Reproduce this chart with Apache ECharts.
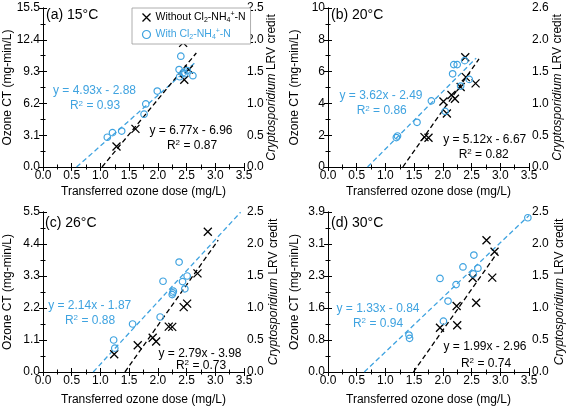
<!DOCTYPE html>
<html><head><meta charset="utf-8">
<script src="https://cdn.jsdelivr.net/npm/echarts@6/dist/echarts.min.js"></script>
<style>html,body{margin:0;padding:0;background:#fff}#c{width:567px;height:410px}</style>
</head><body><div id="c"></div>
<script>
// ---------------- DATA ----------------
const panelTitles = ['(a) 15°C', '(b) 20°C', '(c) 26°C', '(d) 30°C'];
const xTickValues = [0, 0.5, 1.0, 1.5, 2.0, 2.5, 3.0, 3.5];

// Without Cl2-NH4+-N (black crosses)
const aWithoutX = [1.28, 1.61, 2.44, 2.54, 2.46];
const aWithoutY = [2.0, 3.72, 12.1, 9.5, 8.5];
const bWithoutX = [1.68, 1.75, 2.07, 2.01, 2.15, 2.21, 2.31, 2.40, 2.57, 2.39];
const bWithoutY = [1.88, 1.84, 3.37, 4.12, 4.53, 4.29, 5.03, 5.65, 5.26, 6.9];
const cWithoutX = [1.24, 1.65, 1.91, 1.97, 2.19, 2.25, 2.45, 2.51, 2.69, 2.87];
const cWithoutY = [0.61, 0.92, 1.18, 1.05, 1.56, 1.55, 2.23, 2.35, 3.39, 4.82];
const dWithoutX = [1.95, 2.25, 2.24, 2.58, 2.52, 2.86, 2.76, 2.90];
const dWithoutY = [1.08, 1.14, 1.61, 1.69, 2.29, 2.30, 3.21, 2.93];

// With Cl2-NH4+-N (blue circles)
const aWithX = [1.12, 1.21, 1.37, 1.76, 1.79, 1.99, 2.37, 2.40, 2.38, 2.44, 2.47, 2.51, 2.61];
const aWithY = [2.9, 3.35, 3.5, 5.15, 6.15, 7.4, 9.5, 10.8, 8.8, 9.2, 9.1, 9.4, 8.9];
const bWithX = [1.19, 1.21, 1.55, 1.80, 2.04, 2.19, 2.25, 2.17, 2.38, 2.31, 2.46];
const bWithY = [1.85, 1.95, 2.81, 4.16, 3.5, 6.44, 6.44, 5.86, 6.69, 5.09, 5.51];
const cWithX = [1.23, 1.25, 1.56, 2.04, 2.09, 2.25, 2.26, 2.27, 2.37, 2.43, 2.51, 2.47];
const cWithY = [1.1, 0.82, 1.65, 1.89, 3.12, 2.66, 2.72, 2.78, 3.78, 3.11, 3.30, 2.86];
const dWithX = [1.41, 1.42, 2.01, 2.09, 1.95, 2.23, 2.35, 2.54, 2.61, 2.53, 3.48];
const dWithY = [0.90, 0.82, 1.24, 1.73, 2.28, 2.13, 2.56, 2.85, 2.53, 2.39, 3.76];

// Linear fits
const slopeWith = [4.93, 3.62, 2.14, 1.33];
const interceptWith = [-2.88, -2.49, -1.87, -0.84];
const fitWithXEnd = [2.67, 2.58, 3.44, 3.5];
const r2With = ['0.93', '0.86', '0.88', '0.94'];
const slopeWithout = [6.77, 5.12, 2.79, 1.99];
const interceptWithout = [-6.96, -6.67, -3.98, -2.96];
const fitWithoutXEnd = [2.67, 2.63, 3.05, 2.95];
const r2Without = ['0.87', '0.82', '0.73', '0.74'];

// Axes
const leftMax = [15.5, 10, 5.5, 3.9];
const leftInterval = [3.1, 2, 1.1, 0.78];
const leftDecimals = [1, 0, 1, 1];
const rightMax = 2.5;
const rightInterval = 0.5;
const rightTopLabel = ['2.5', '2.6', '2.5', '2.5'];

// --------------- CHART ----------------
const BLUE = '#3fa3e0';
const FONT = 'Liberation Sans, Arial, sans-serif';
const withoutX = [aWithoutX, bWithoutX, cWithoutX, dWithoutX];
const withoutY = [aWithoutY, bWithoutY, cWithoutY, dWithoutY];
const withX = [aWithX, bWithX, cWithX, dWithX];
const withY = [aWithY, bWithY, cWithY, dWithY];
const zip = (xs, ys) => xs.map((x, i) => [x, ys[i]]);
const fmtEq = (m, b) => 'y = ' + m.toFixed(2) + 'x - ' + Math.abs(b).toFixed(2);

const grids = [
  {left: 43, top: 8, width: 201, height: 159},
  {left: 328, top: 8, width: 201, height: 159},
  {left: 43, top: 212, width: 201, height: 160},
  {left: 328, top: 212, width: 201, height: 160}
];
const xNameGap = [19, 19, 22, 22];
const leftNameGap = [29, 27, 29, 27];
const rightNameGap = [22, 23, 24, 25];

const X_PATH = 'path://M0,0L10,10M10,0L0,10';
const lineAx = {lineStyle: {color: '#000', width: 1}};
const tick = {show: true, length: 4, lineStyle: {color: '#000', width: 1}};
const minor = {show: true, splitNumber: 2, length: 2.5, lineStyle: {color: '#000', width: 1}};
const lbl = {color: '#000', fontSize: 12, fontFamily: FONT, margin: 3};

const xAxis = [], yAxis = [], series = [], graphic = [];
grids.forEach((g, i) => {
  xAxis.push({
    gridIndex: i, type: 'value', position: 'bottom', min: 0, max: 3.5, interval: 0.5,
    axisLine: lineAx, axisTick: tick, minorTick: minor, splitLine: {show: false},
    axisLabel: Object.assign({}, lbl, {formatter: v => v.toFixed(1)}),
    name: 'Transferred ozone dose (mg/L)', nameLocation: 'middle', nameGap: xNameGap[i],
    nameMoveOverlap: false,
    nameTextStyle: {color: '#000', fontSize: 12, fontFamily: FONT}
  });
  xAxis.push({
    gridIndex: i, type: 'value', position: 'top', min: 0, max: 3.5, interval: 0.5,
    axisLine: lineAx, axisTick: tick, minorTick: minor, splitLine: {show: false},
    axisLabel: {show: false}
  });
  yAxis.push({
    gridIndex: i, type: 'value', position: 'left', min: 0, max: leftMax[i], interval: leftInterval[i],
    axisLine: lineAx, axisTick: tick, minorTick: minor, splitLine: {show: false},
    axisLabel: Object.assign({}, lbl, {formatter: v => v.toFixed(leftDecimals[i])}),
    name: 'Ozone CT (mg-min/L)', nameLocation: 'middle', nameGap: leftNameGap[i], nameRotate: 90,
    nameMoveOverlap: false,
    nameTextStyle: {color: '#000', fontSize: 12, fontFamily: FONT}
  });
  yAxis.push({
    gridIndex: i, type: 'value', position: 'right', min: 0, max: rightMax, interval: rightInterval,
    axisLine: lineAx, axisTick: tick, minorTick: minor, splitLine: {show: false},
    axisLabel: Object.assign({}, lbl, {formatter: v => Math.abs(v - rightMax) < 1e-9 ? rightTopLabel[i] : v.toFixed(1)}),
    name: '{it|Cryptosporidium} LRV credit', nameLocation: 'middle', nameGap: rightNameGap[i], nameRotate: 90,
    nameMoveOverlap: false,
    nameTextStyle: {color: '#000', fontSize: 12, fontFamily: FONT,
      rich: {it: {fontStyle: 'italic', fontSize: 12, fontFamily: FONT, color: '#000'}}}
  });
  const xi = 2 * i, yi = 2 * i;
  // fit lines
  const x0w = -interceptWith[i] / slopeWith[i];
  series.push({
    type: 'line', xAxisIndex: xi, yAxisIndex: yi, showSymbol: false, silent: true, animation: false, z: 2,
    lineStyle: {color: BLUE, width: 1.3, type: [5, 3]},
    data: [[x0w, 0], [fitWithXEnd[i], slopeWith[i] * fitWithXEnd[i] + interceptWith[i]]]
  });
  const x0b = -interceptWithout[i] / slopeWithout[i];
  series.push({
    type: 'line', xAxisIndex: xi, yAxisIndex: yi, showSymbol: false, silent: true, animation: false, z: 2,
    lineStyle: {color: '#000', width: 1.3, type: [5, 3]},
    data: [[x0b, 0], [fitWithoutXEnd[i], slopeWithout[i] * fitWithoutXEnd[i] + interceptWithout[i]]]
  });
  series.push({
    name: 'Without', type: 'scatter', xAxisIndex: xi, yAxisIndex: yi, animation: false, z: 3,
    symbol: X_PATH, symbolSize: 8,
    itemStyle: {color: 'none', borderColor: '#000', borderWidth: 1.3, opacity: 1},
    data: zip(withoutX[i], withoutY[i])
  });
  series.push({
    name: 'With', type: 'scatter', xAxisIndex: xi, yAxisIndex: yi, animation: false, z: 3,
    symbol: 'circle', symbolSize: 6.5,
    itemStyle: {color: 'rgba(255,255,255,0)', borderColor: BLUE, borderWidth: 1.2, opacity: 1},
    data: zip(withX[i], withY[i])
  });
});

const titlePos = [[46, 15.5], [331, 15.5], [45, 223], [331, 223.5]];
const eqPos = [
  {w: [94.5, 90.7], wr: [95, 106], b: [191, 131], br: [192, 145.7]},
  {w: [381, 96], wr: [381.7, 111], b: [484.7, 140], br: [483.7, 154.5]},
  {w: [89.7, 306], wr: [90, 320.5], b: [200, 354], br: [201, 365.7]},
  {w: [378, 308.3], wr: [378, 323.3], b: [485, 346.7], br: [486, 363.3]}
];
const supRich = {s: {fontSize: 8, verticalAlign: 'top', lineHeight: 8, fontFamily: FONT}};
function txt(x, y, text, color, size, align) {
  return {type: 'text', x: x, y: y, silent: true, z: 100,
    style: {text: text, fill: color, fontSize: size, fontFamily: FONT,
      align: align || 'center', verticalAlign: 'middle',
      rich: {s: Object.assign({}, supRich.s, {fill: color}), n: {fontSize: size, fill: color, lineHeight: 13, fontFamily: FONT}}}};
}
for (let i = 0; i < 4; i++) {
  graphic.push(txt(titlePos[i][0], titlePos[i][1], panelTitles[i], '#000', 14, 'left'));
  const p = eqPos[i];
  graphic.push(txt(p.w[0], p.w[1], fmtEq(slopeWith[i], interceptWith[i]), BLUE, 12));
  graphic.push(txt(p.wr[0], p.wr[1], '{n|R}{s|2}{n| = ' + r2With[i] + '}', BLUE, 12));
  graphic.push(txt(p.b[0], p.b[1], fmtEq(slopeWithout[i], interceptWithout[i]), '#000', 12));
  graphic.push(txt(p.br[0], p.br[1], '{n|R}{s|2}{n| = ' + r2Without[i] + '}', '#000', 12));
}

const legendRich = {
  n: {fontSize: 10.5, lineHeight: 13, fontFamily: FONT},
  sub: {fontSize: 7, lineHeight: 6, verticalAlign: 'bottom', fontFamily: FONT},
  sup: {fontSize: 7, lineHeight: 6, verticalAlign: 'top', fontFamily: FONT}
};
const legendLabel = {
  Without: '{n|Without Cl}{sub|2}{n|-NH}{sub|4}{sup|+}{n|-N}',
  With: '{n|With Cl}{sub|2}{n|-NH}{sub|4}{sup|+}{n|-N}'
};

const chart = echarts.init(document.getElementById('c'), null, {renderer: 'canvas'});
chart.setOption({
  animation: false,
  backgroundColor: '#fff',
  textStyle: {fontFamily: FONT},
  grid: grids.map(g => Object.assign({containLabel: false, outerBoundsMode: 'none'}, g)),
  xAxis: xAxis, yAxis: yAxis, series: series, graphic: graphic,
  legend: {
    orient: 'vertical', left: 132, top: 8, itemWidth: 8, itemHeight: 8, itemGap: 4,
    padding: [3, 5, 3, 8], borderColor: '#999', borderWidth: 0.8, backgroundColor: '#fff',
    selectedMode: false, z: 50,
    formatter: name => legendLabel[name],
    textStyle: {color: '#000', fontSize: 10.5, fontFamily: FONT, rich: legendRich},
    data: [
      {name: 'Without', icon: X_PATH, itemStyle: {color: 'none', borderColor: '#000', borderWidth: 1.3}},
      {name: 'With', icon: 'circle', itemStyle: {color: 'rgba(255,255,255,0)', borderColor: BLUE, borderWidth: 1.2},
        textStyle: {color: BLUE}}
    ]
  }
});
</script>
</body></html>
